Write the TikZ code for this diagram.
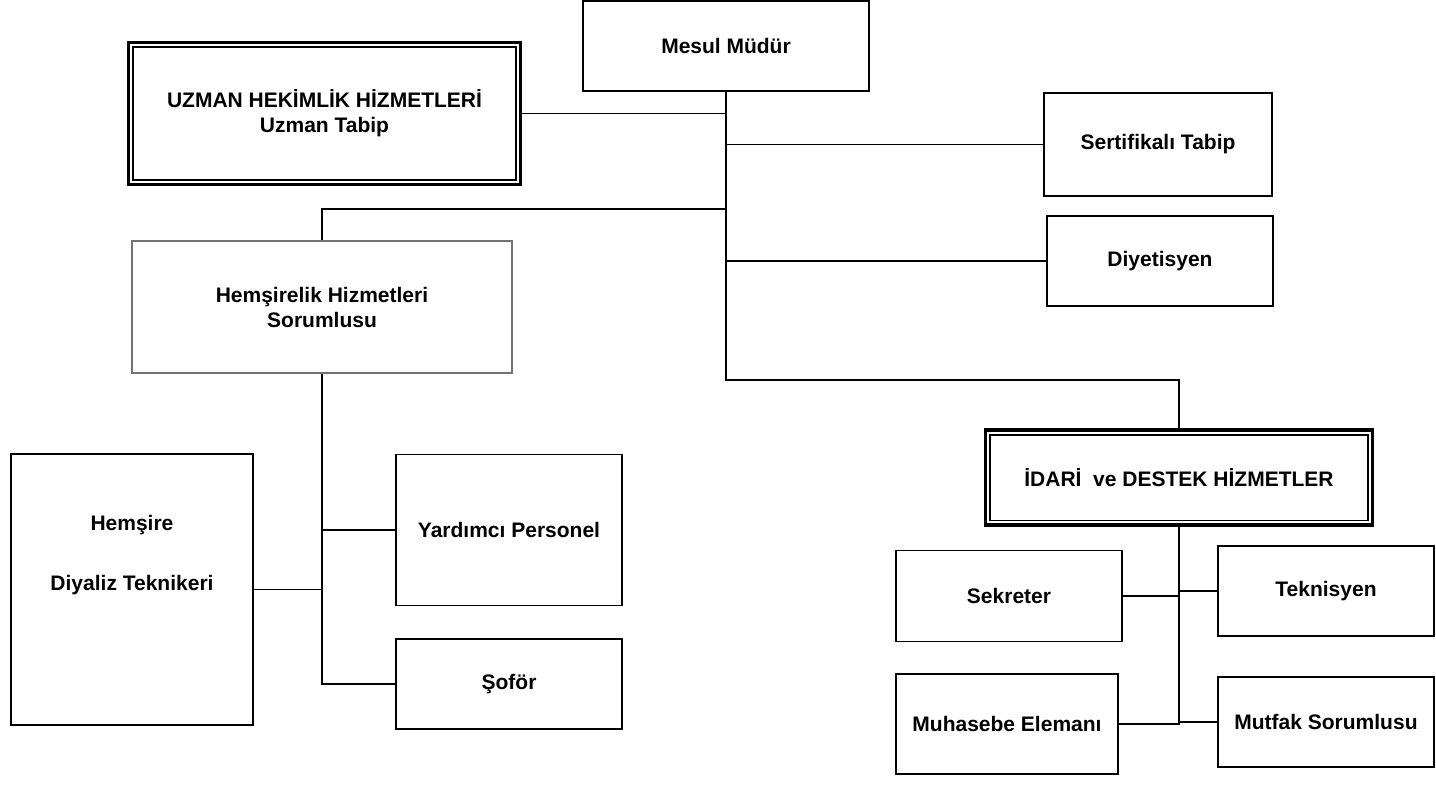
\documentclass[tikz,border=0pt]{standalone}
\usepackage{fontspec}
\setmainfont{Liberation Sans}
\usetikzlibrary{calc}
\begin{document}
\begin{tikzpicture}[x=1pt,y=-1pt,
  box/.style={draw=black, line width=1.6pt, fill=white, align=center,
    font=\fontsize{21}{25}\selectfont\bfseries, inner sep=0pt},
  graybox/.style={box, draw=black!55, line width=1.7pt},
  tribox/.style={box, line width=2.2pt},
  trimid/.style={line width=0.8pt},
  triin/.style={line width=1.8pt},
  conn/.style={line width=1.8pt, black}]
\useasboundingbox (0,0) rectangle (1436,788);

% nodes
\node[box, minimum width=286pt, minimum height=90pt] (mesul) at (726,46) {Mesul Müdür};
\node[tribox, minimum width=393pt, minimum height=143pt] (uz) at (324.5,113.5)
  {UZMAN HEKİMLİK HİZMETLERİ\\Uzman Tabip};
\draw[trimid] ($(uz.north west)+(2.8,2.8)$) rectangle ($(uz.south east)+(-2.8,-2.8)$);
\draw[triin] ($(uz.north west)+(6.2,6.2)$) rectangle ($(uz.south east)+(-6.2,-6.2)$);

\node[box, minimum width=228pt, minimum height=103pt] (sert) at (1158,144.5) {Sertifikalı Tabip};
\node[box, minimum width=226pt, minimum height=90pt] (diy) at (1160,261) {Diyetisyen};

\node[graybox, minimum width=380pt, minimum height=132pt] (hs) at (322,307)
  {Hemşirelik Hizmetleri\\Sorumlusu};

\node[box, minimum width=242pt, minimum height=271pt] (hem) at (132,589.5)
  {Hemşire\\[35pt]Diyaliz Teknikeri\\[49pt]\mbox{}};
\node[box, minimum width=226pt, minimum height=151pt] (yard) at (509,530) {Yardımcı Personel};
\node[box, minimum width=226pt, minimum height=90pt] (sof) at (509,684) {Şoför};

\node[tribox, minimum width=388pt, minimum height=96pt] (idari) at (1179,477.5)
  {İDARİ\ \ ve DESTEK HİZMETLER};
\draw[trimid] ($(idari.north west)+(2.8,2.8)$) rectangle ($(idari.south east)+(-2.8,-2.8)$);
\draw[triin] ($(idari.north west)+(6.2,6.2)$) rectangle ($(idari.south east)+(-6.2,-6.2)$);

\node[box, minimum width=226pt, minimum height=91pt] (sek) at (1009,596) {Sekreter};
\node[box, minimum width=216pt, minimum height=90pt] (tek) at (1326,591) {Teknisyen};
\node[box, minimum width=222pt, minimum height=100pt] (muh) at (1007,724) {Muhasebe Elemanı};
\node[box, minimum width=216pt, minimum height=90pt] (mut) at (1326,722) {Mutfak Sorumlusu};

% connectors
\coordinate (tj) at (726,380);
\coordinate (hj) at (726,209);
\draw[conn] (mesul.south) -- (tj) -| (idari.north);
\draw[conn] (uz.east) -- (uz.east -| mesul.south);
\draw[conn] (sert.west) -- (sert.west -| mesul.south);
\draw[conn] (diy.west) -- (diy.west -| mesul.south);
\draw[conn] (hs.north) |- (hj);
\draw[conn] (hs.south) -- (hs.south |- sof.west) -- (sof.west);
\draw[conn] (hem.east) -- (hem.east -| hs.south);
\draw[conn] (yard.west) -- (yard.west -| hs.south);
\draw[conn] (idari.south) -- (idari.south |- muh.east) -- (muh.east);
\draw[conn] (sek.east) -- (sek.east -| idari.south);
\draw[conn] (tek.west) -- (tek.west -| idari.south);
\draw[conn] (mut.west) -- (mut.west -| idari.south);
\end{tikzpicture}
\end{document}
